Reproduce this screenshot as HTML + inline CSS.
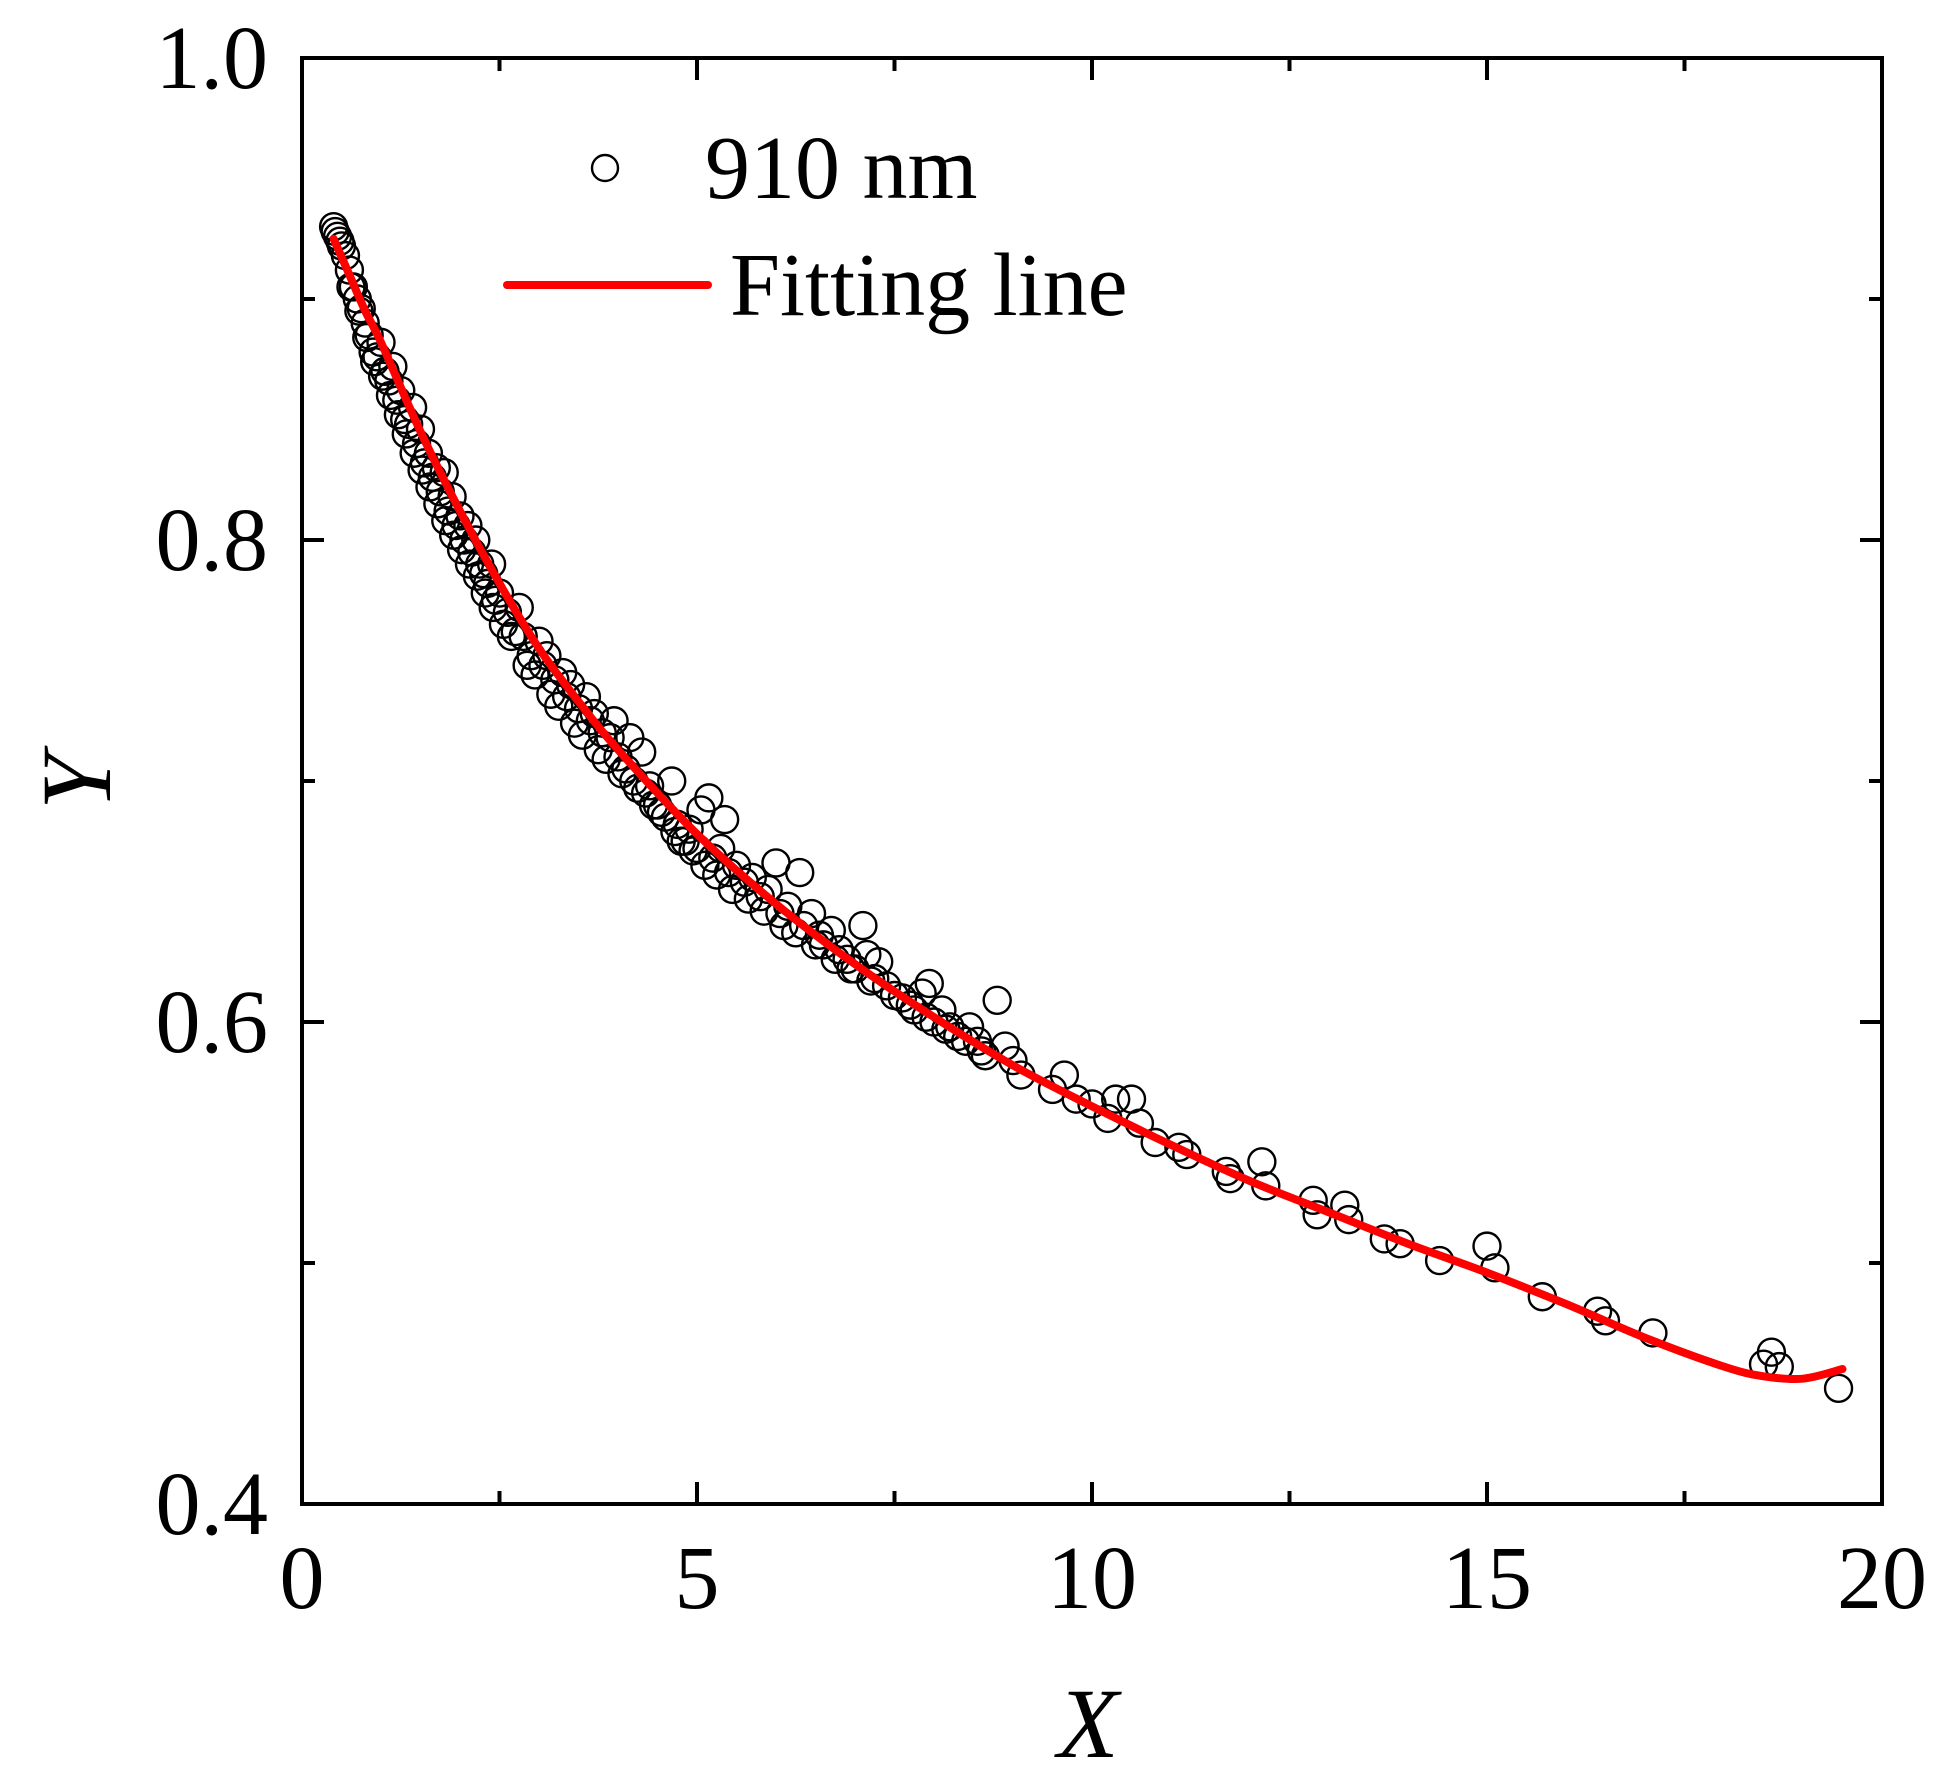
<!DOCTYPE html>
<html><head><meta charset="utf-8"><style>
html,body{margin:0;padding:0;background:#fff;}
svg{display:block;font-family:"Liberation Serif",serif;}
</style></head><body>
<svg id="chart" width="1940" height="1790" viewBox="0 0 1940 1790">
<g id="marks"></g>
<g id="axes"></g>
<g id="legend">
  <circle cx="605" cy="168" r="13" fill="none" stroke="#000" stroke-width="2.4"/>
  <text x="705" y="198" font-size="90">910 nm</text>
  <line x1="507" y1="285" x2="708" y2="285" stroke="#f00" stroke-width="8" stroke-linecap="round"/>
  <text x="730" y="315" font-size="90">Fitting line</text>
</g>
<text x="1088" y="1757" font-size="100" font-style="italic" text-anchor="middle">X</text>
<text transform="translate(110,782) rotate(-90)" font-size="100" font-style="italic" text-anchor="middle">Y</text>
</svg>
<script>
const xTicks=[0,5,10,15,20];
const xTickLabels=["0","5","10","15","20"];
const yTicks=[0.4,0.6,0.8,1.0];
const yTickLabels=["0.4","0.6","0.8","1.0"];
const fitX=[0.4,0.6,0.8,1,1.5,2,2.5,3,3.5,4,5,6,7,8,9,10,11,12,13,14,15,16,17,18,18.5,19,19.5];
const fitY=[0.925,0.91,0.895,0.882,0.845,0.812,0.782,0.755,0.733,0.713,0.678,0.649,0.624,0.602,0.582,0.565,0.549,0.534,0.521,0.508,0.496,0.483,0.469,0.457,0.453,0.452,0.456];
const dataX=[0.40,0.42,0.45,0.48,0.5,0.55,0.6,0.65,0.7,0.75,0.8,0.85,0.9,0.95,1.0,1.05,1.1,1.15,1.2,1.25,1.3,1.35,1.4,1.45,1.5,1.55,1.6,1.65,1.7,1.75,1.8,1.85,1.9,1.95,2.0,2.05,2.1,2.15,2.2,2.25,2.3,2.35,2.4,2.45,2.5,2.6,2.7,2.75,2.8,2.9,3.0,3.05,3.1,3.2,3.3,3.35,3.4,3.5,3.6,3.65,3.7,3.8,3.9,3.95,4.0,4.1,4.15,4.2,4.3,4.35,4.4,4.5,4.6,4.68,4.75,4.8,4.9,5.0,5.05,5.15,5.2,5.3,5.35,5.4,5.5,5.6,5.7,5.8,5.9,6.0,6.05,6.15,6.3,6.35,6.45,6.55,6.6,6.7,6.8,6.9,7.0,7.1,7.15,7.25,7.3,7.4,7.6,7.75,7.85,7.94,8.0,8.1,8.2,8.3,8.45,8.55,8.65,8.8,8.9,9.0,9.1,9.5,9.65,9.8,10.0,10.2,10.3,10.5,10.6,10.8,11.1,11.2,11.7,11.75,12.15,12.2,12.8,12.85,13.2,13.25,13.7,13.9,14.4,15.0,15.1,15.7,16.4,16.5,17.1,18.5,18.6,18.7,19.45,
0.62,0.72,0.82,0.92,1.02,1.12,1.22,1.32,1.42,1.52,1.62,1.72,1.82,1.92,2.02,2.12,2.22,2.32,2.42,2.55,2.65,2.85,2.95,3.15,3.25,3.45,3.55,3.75,3.85,4.05,4.25,4.45,4.55,4.72,4.85,4.95,5.1,5.25,5.45,5.65,5.85,6.1,6.25,6.5,6.75,6.95,7.2,7.5,7.7,7.9,8.15,8.4,8.6];
const dataY=[0.93,0.928,0.926,0.924,0.922,0.918,0.912,0.905,0.9,0.896,0.89,0.885,0.878,0.876,0.882,0.87,0.866,0.872,0.858,0.862,0.85,0.848,0.855,0.84,0.846,0.832,0.836,0.826,0.83,0.82,0.828,0.812,0.818,0.806,0.81,0.8,0.806,0.795,0.8,0.79,0.786,0.782,0.79,0.775,0.778,0.77,0.762,0.772,0.76,0.752,0.758,0.748,0.752,0.742,0.745,0.735,0.74,0.73,0.735,0.725,0.728,0.72,0.718,0.725,0.71,0.705,0.718,0.7,0.712,0.695,0.698,0.69,0.685,0.70,0.682,0.675,0.68,0.672,0.688,0.693,0.668,0.672,0.684,0.662,0.665,0.658,0.66,0.652,0.655,0.666,0.645,0.648,0.662,0.64,0.645,0.636,0.632,0.638,0.63,0.626,0.622,0.64,0.628,0.618,0.625,0.615,0.61,0.605,0.612,0.616,0.6,0.605,0.598,0.594,0.598,0.592,0.586,0.609,0.59,0.584,0.578,0.572,0.578,0.568,0.566,0.56,0.568,0.568,0.558,0.55,0.548,0.545,0.538,0.535,0.542,0.532,0.526,0.52,0.524,0.518,0.51,0.508,0.501,0.507,0.498,0.486,0.48,0.476,0.471,0.458,0.463,0.457,0.448,
0.905,0.895,0.884,0.874,0.868,0.86,0.852,0.844,0.836,0.829,0.822,0.815,0.808,0.802,0.796,0.79,0.785,0.778,0.772,0.765,0.76,0.748,0.744,0.736,0.731,0.724,0.719,0.713,0.709,0.703,0.697,0.69,0.687,0.679,0.675,0.671,0.665,0.661,0.655,0.651,0.646,0.64,0.637,0.632,0.626,0.622,0.617,0.611,0.607,0.602,0.597,0.592,0.588];

const L=302,R=1882,T=58,B=1504;
const sx=v=>L+(v-0)/(20-0)*(R-L);
const sy=v=>B-(v-0.4)/(1.0-0.4)*(B-T);
const NS="http://www.w3.org/2000/svg";
const marks=document.getElementById('marks');
const axes=document.getElementById('axes');
function mk(tag,attrs,parent){const e=document.createElementNS(NS,tag);for(const k in attrs)e.setAttribute(k,attrs[k]);parent.appendChild(e);return e;}

for(let i=0;i<dataX.length;i++){
  const c=mk('circle',{cx:sx(dataX[i]),cy:sy(dataY[i]),r:13.5,fill:'none',stroke:'#000','stroke-width':2.4},marks);
  
  
}
const pts=fitX.map((x,i)=>[sx(x),sy(fitY[i])]);
let d='M'+pts[0][0]+','+pts[0][1];
for(let i=0;i<pts.length-1;i++){
  const p0=pts[Math.max(0,i-1)],p1=pts[i],p2=pts[i+1],p3=pts[Math.min(pts.length-1,i+2)];
  const c1=[p1[0]+(p2[0]-p0[0])/6,p1[1]+(p2[1]-p0[1])/6];
  const c2=[p2[0]-(p3[0]-p1[0])/6,p2[1]-(p3[1]-p1[1])/6];
  d+=` C${c1[0]},${c1[1]} ${c2[0]},${c2[1]} ${p2[0]},${p2[1]}`;
}
const fit=mk('path',{d:d,fill:'none',stroke:'#f00','stroke-width':8,'stroke-linecap':'round','stroke-linejoin':'round'},marks);



const frame=mk('rect',{x:L,y:T,width:R-L,height:B-T,fill:'none',stroke:'#000','stroke-width':4},axes);



xTicks.forEach((v,i)=>{
  const x=sx(v);
  mk('line',{x1:x,y1:B,x2:x,y2:B-22,stroke:'#000','stroke-width':4},axes);
  mk('line',{x1:x,y1:T,x2:x,y2:T+22,stroke:'#000','stroke-width':4},axes);
  if(i<xTicks.length-1){const m=sx(v+2.5);
    mk('line',{x1:m,y1:B,x2:m,y2:B-13,stroke:'#000','stroke-width':4},axes);
    mk('line',{x1:m,y1:T,x2:m,y2:T+13,stroke:'#000','stroke-width':4},axes);}
  const t=mk('text',{x:x,y:1608,'font-size':90,'text-anchor':'middle'},axes);
  t.textContent=xTickLabels[i];
  
  
});
yTicks.forEach((v,i)=>{
  const y=sy(v);
  mk('line',{x1:L,y1:y,x2:L+22,y2:y,stroke:'#000','stroke-width':4},axes);
  mk('line',{x1:R,y1:y,x2:R-22,y2:y,stroke:'#000','stroke-width':4},axes);
  if(i<yTicks.length-1){const m=sy(v+0.1);
    mk('line',{x1:L,y1:m,x2:L+13,y2:m,stroke:'#000','stroke-width':4},axes);
    mk('line',{x1:R,y1:m,x2:R-13,y2:m,stroke:'#000','stroke-width':4},axes);}
  const t=mk('text',{x:268,y:y+30,'font-size':90,'text-anchor':'end'},axes);
  t.textContent=yTickLabels[i];
  
  
});
</script>
</body></html>
